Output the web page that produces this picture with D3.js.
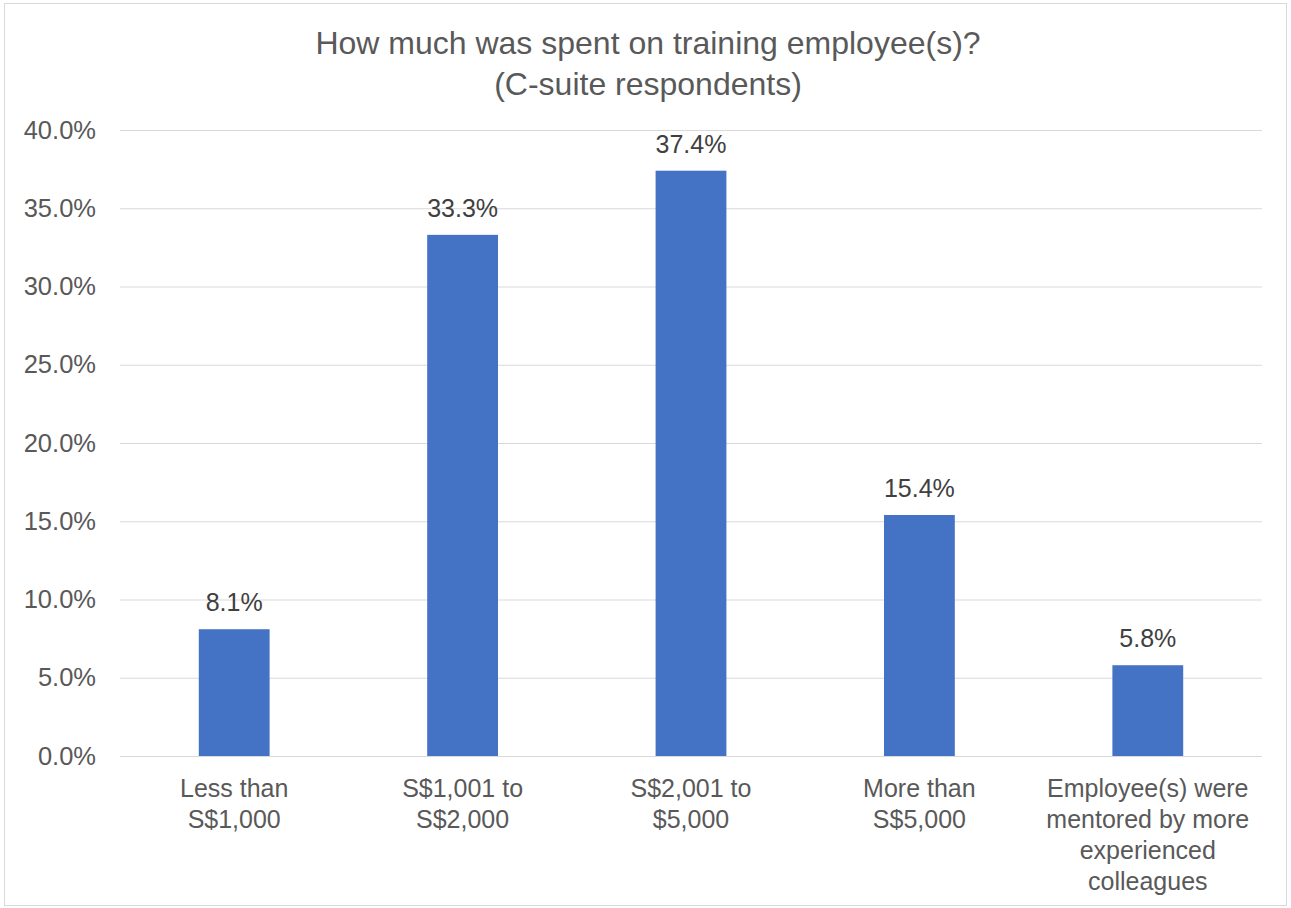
<!DOCTYPE html>
<html>
<head>
<meta charset="utf-8">
<script src="https://cdn.jsdelivr.net/npm/d3@7"></script>
<style>
  html, body { margin: 0; padding: 0; background: #fff; }
  svg { display: block; font-family: "Liberation Sans", Arial, sans-serif; }
</style>
</head>
<body>
<svg id="chart" width="1291" height="908"></svg>
<script>
// Spending on employee training, C-suite respondents
const categories = [
  ["Less than", "S$1,000"],
  ["S$1,001 to", "S$2,000"],
  ["S$2,001 to", "$5,000"],
  ["More than", "S$5,000"],
  ["Employee(s) were", "mentored by more", "experienced", "colleagues"]
];
const values = [8.1, 33.3, 37.4, 15.4, 5.8];
const yTicks = [0, 5, 10, 15, 20, 25, 30, 35, 40];
const titleLines = ["How much was spent on training employee(s)?", "(C-suite respondents)"];

const svg = d3.select("#chart");
const W = 1291, H = 908;
const plot = { left: 120, right: 1262, top: 130, bottom: 756 };
const textColor = "#595959";

// outer frame
svg.append("rect")
  .attr("x", 4.5).attr("y", 3.5)
  .attr("width", W - 9).attr("height", H - 6)
  .attr("fill", "#fff").attr("stroke", "#d9d9d9").attr("stroke-width", 1);

const x = d3.scaleBand()
  .domain(d3.range(categories.length))
  .range([plot.left, plot.right])
  .paddingInner(0.69)
  .paddingOuter(0.345);

const y = d3.scaleLinear()
  .domain([0, 40])
  .range([plot.bottom, plot.top]);

// gridlines and y labels
const yAxis = d3.axisLeft(y)
  .tickValues(yTicks)
  .tickSize(-(plot.right - plot.left))
  .tickPadding(24)
  .tickFormat(d => d.toFixed(1) + "%");

const yg = svg.append("g")
  .attr("transform", `translate(${plot.left},0)`)
  .call(yAxis);
yg.select(".domain").remove();
yg.selectAll(".tick line").attr("stroke", "#d9d9d9").attr("stroke-width", 1.2);
yg.selectAll(".tick text")
  .attr("fill", textColor)
  .attr("font-size", 25.5)
  .attr("font-family", "Liberation Sans, Arial, sans-serif");

// bars
svg.append("g").selectAll("rect")
  .data(values)
  .join("rect")
  .attr("x", (d, i) => x(i))
  .attr("y", d => y(d))
  .attr("width", x.bandwidth())
  .attr("height", d => y(0) - y(d))
  .attr("fill", "#4472c4");

// value labels
svg.append("g").selectAll("text")
  .data(values)
  .join("text")
  .attr("x", (d, i) => x(i) + x.bandwidth() / 2)
  .attr("y", d => y(d) - 18)
  .attr("text-anchor", "middle")
  .attr("fill", "#404040")
  .attr("font-size", 25)
  .text(d => d.toFixed(1) + "%");

// category labels
const xg = svg.append("g");
categories.forEach((lines, i) => {
  const t = xg.append("text")
    .attr("text-anchor", "middle")
    .attr("fill", textColor)
    .attr("font-size", 25);
  lines.forEach((ln, j) => {
    t.append("tspan")
      .attr("x", x(i) + x.bandwidth() / 2)
      .attr("y", plot.bottom + 41 + j * 31)
      .text(ln);
  });
});

// title
const title = svg.append("text")
  .attr("text-anchor", "middle")
  .attr("fill", textColor)
  .attr("font-size", 32);
titleLines.forEach((ln, j) => {
  title.append("tspan")
    .attr("x", 648)
    .attr("y", 54 + j * 41)
    .text(ln);
});
</script>
</body>
</html>
